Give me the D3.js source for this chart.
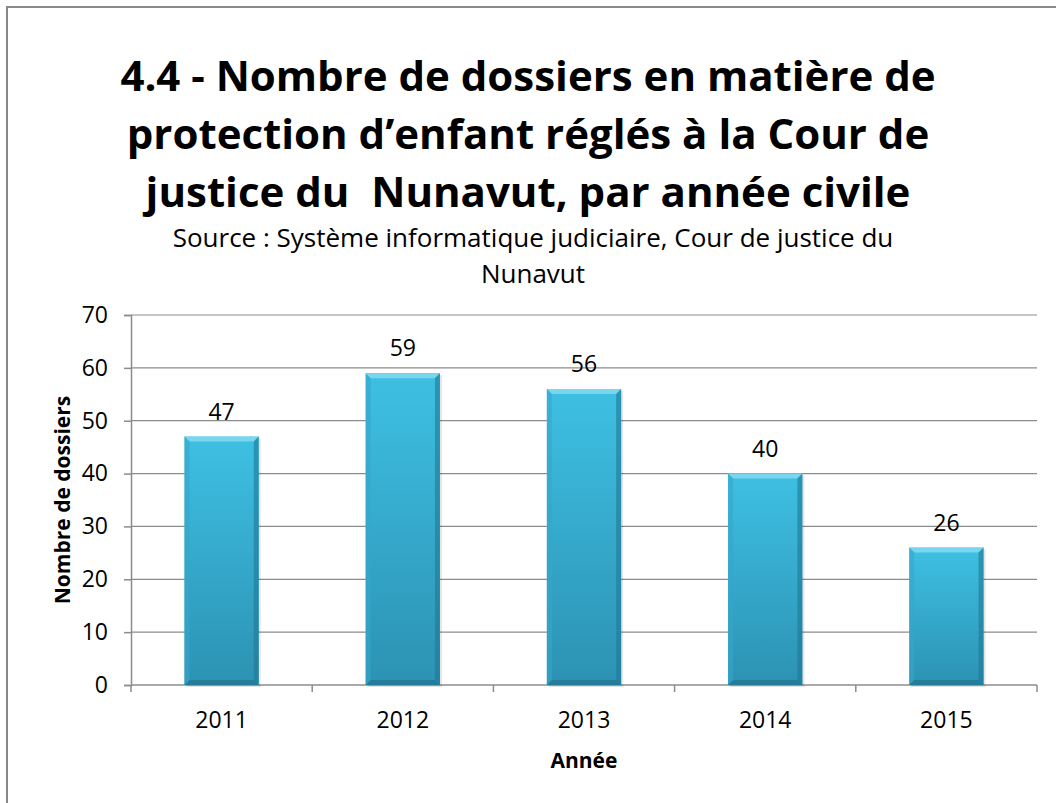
<!DOCTYPE html>
<html>
<head>
<meta charset="utf-8">
<script src="https://cdn.jsdelivr.net/npm/d3@7"></script>
<style>
  body { margin: 0; background: #fff; }
  text { font-family: "Open Sans", sans-serif; fill: #000; }
</style>
</head>
<body>
<div id="visualization"></div>
<script>
// Data
const years = ["2011", "2012", "2013", "2014", "2015"];
const dossiers = [47, 59, 56, 40, 26];
const yTicks = [0, 10, 20, 30, 40, 50, 60, 70];
const titleLines = [
    "4.4 - Nombre de dossiers en matière de",
    "protection d\u2019enfant réglés à la Cour de",
    "justice du  Nunavut, par année civile"
];
const sourceLines = [
    "Source : Système informatique judiciaire, Cour de justice du",
    "Nunavut"
];

const W = 1056, H = 803;
const svg = d3.select("#visualization").append("svg")
    .attr("width", W)
    .attr("height", H);

// outer frame
svg.append("rect")
    .attr("x", 7).attr("y", 7)
    .attr("width", W + 20).attr("height", H + 20)
    .attr("fill", "#fff")
    .attr("stroke", "#898989")
    .attr("stroke-width", 2);

// gradient for bars
const defs = svg.append("defs");
const grad = defs.append("linearGradient")
    .attr("id", "barGrad")
    .attr("x1", 0).attr("y1", 0).attr("x2", 0).attr("y2", 1);
grad.append("stop").attr("offset", "0%").attr("stop-color", "#3ec0e3");
grad.append("stop").attr("offset", "100%").attr("stop-color", "#2c92b3");

// title
svg.append("g").selectAll("text")
    .data(titleLines)
    .enter().append("text")
    .attr("x", 528)
    .attr("y", (d, i) => 91 + i * 58)
    .attr("text-anchor", "middle")
    .style("font-size", "42px")
    .style("font-weight", "bold")
    .style("white-space", "pre")
    .text(d => d);

svg.append("g").selectAll("text")
    .data(sourceLines)
    .enter().append("text")
    .attr("x", 533)
    .attr("y", (d, i) => 247 + i * 36)
    .attr("text-anchor", "middle")
    .style("font-size", "26px")
    .text(d => d);

// scales
const x = d3.scaleBand()
    .domain(years)
    .range([131, 1037])
    .paddingInner(0.59)
    .paddingOuter(0.295);

const y = d3.scaleLinear()
    .domain([0, 70])
    .range([685, 315]);

// gridlines
svg.append("g")
    .selectAll("line")
    .data(yTicks.slice(1))
    .enter().append("line")
    .attr("x1", 131).attr("x2", 1037)
    .attr("y1", d => y(d)).attr("y2", d => y(d))
    .attr("stroke", "#8c8c8c")
    .attr("stroke-width", 1.2);

// y axis
const yAxis = svg.append("g")
    .attr("transform", "translate(131,0)")
    .call(d3.axisLeft(y).tickValues(yTicks).tickSize(7).tickPadding(16));
yAxis.select(".domain").attr("stroke", "#8c8c8c").attr("stroke-width", 1.5);
yAxis.selectAll(".tick line").attr("stroke", "#8c8c8c").attr("stroke-width", 1.5);
yAxis.selectAll(".tick text")
    .style("font-size", "23px")
    .style("font-family", "'Open Sans', sans-serif")
    .attr("fill", "#000");

// x axis: ticks between categories
const xBounds = d3.range(years.length + 1).map(i => 131 + i * (906 / years.length));
const xAxis = svg.append("g")
    .attr("transform", "translate(0,685)");
xAxis.append("line")
    .attr("x1", 131).attr("x2", 1037)
    .attr("stroke", "#8c8c8c").attr("stroke-width", 1.5);
xAxis.selectAll(".xtick")
    .data(xBounds)
    .enter().append("line")
    .attr("x1", d => d).attr("x2", d => d)
    .attr("y1", 0).attr("y2", 7)
    .attr("stroke", "#8c8c8c").attr("stroke-width", 1.5);
xAxis.selectAll(".xlabel")
    .data(years)
    .enter().append("text")
    .attr("x", d => x(d) + x.bandwidth() / 2)
    .attr("y", 43)
    .attr("text-anchor", "middle")
    .style("font-size", "23px")
    .text(d => d);

// bars with bevel
const bars = svg.append("g").selectAll("g")
    .data(years.map((yr, i) => ({ year: yr, value: dossiers[i] })))
    .enter().append("g");

bars.append("rect")
    .attr("x", d => x(d.year) + 2)
    .attr("y", d => y(d.value) + 2)
    .attr("width", x.bandwidth())
    .attr("height", d => 685 - y(d.value))
    .attr("fill", "#000")
    .attr("opacity", 0.1);

bars.append("rect")
    .attr("x", d => x(d.year))
    .attr("y", d => y(d.value))
    .attr("width", x.bandwidth())
    .attr("height", d => 685 - y(d.value))
    .attr("fill", "url(#barGrad)");

const bev = 5;
// top bevel (light)
bars.append("polygon")
    .attr("points", d => {
        const x0 = x(d.year), x1 = x0 + x.bandwidth(), y0 = y(d.value);
        return [[x0, y0], [x1, y0], [x1 - bev, y0 + bev], [x0 + bev, y0 + bev]].join(" ");
    })
    .attr("fill", "#79d6ef");
// left bevel
bars.append("polygon")
    .attr("points", d => {
        const x0 = x(d.year), y0 = y(d.value);
        return [[x0, y0], [x0 + bev, y0 + bev], [x0 + bev, 685 - bev], [x0, 685]].join(" ");
    })
    .attr("fill", "#35a6c9").attr("opacity", 0.6);
// right bevel (dark)
bars.append("polygon")
    .attr("points", d => {
        const x1 = x(d.year) + x.bandwidth(), y0 = y(d.value);
        return [[x1, y0], [x1 - bev, y0 + bev], [x1 - bev, 685 - bev], [x1, 685]].join(" ");
    })
    .attr("fill", "#1f7894").attr("opacity", 0.6);
// bottom bevel
bars.append("polygon")
    .attr("points", d => {
        const x0 = x(d.year), x1 = x0 + x.bandwidth();
        return [[x0, 685], [x0 + bev, 685 - bev], [x1 - bev, 685 - bev], [x1, 685]].join(" ");
    })
    .attr("fill", "#1e6f88").attr("opacity", 0.6);

// value labels
bars.append("text")
    .attr("x", d => x(d.year) + x.bandwidth() / 2)
    .attr("y", d => y(d.value) - 17)
    .attr("text-anchor", "middle")
    .style("font-size", "23px")
    .text(d => d.value);

// axis titles
svg.append("text")
    .attr("transform", "translate(70,500) rotate(-90)")
    .attr("text-anchor", "middle")
    .style("font-size", "21px")
    .style("font-weight", "bold")
    .text("Nombre de dossiers");

svg.append("text")
    .attr("x", 584)
    .attr("y", 768)
    .attr("text-anchor", "middle")
    .style("font-size", "21px")
    .style("font-weight", "bold")
    .text("Année");
</script>
</body>
</html>
